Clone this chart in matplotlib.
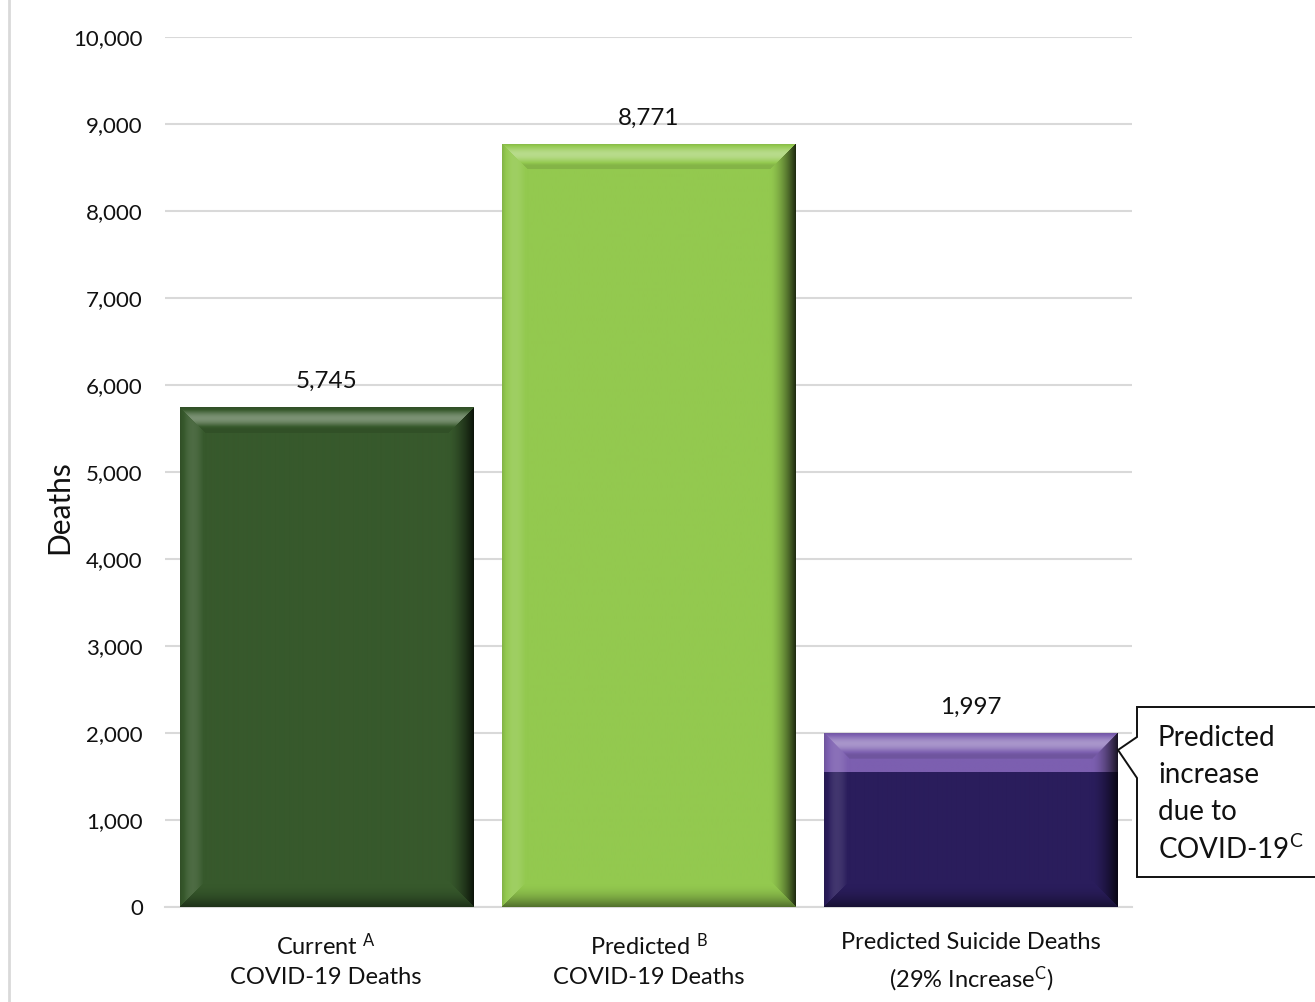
import numpy as np
import matplotlib
matplotlib.use("Agg")
import matplotlib.pyplot as plt
from matplotlib.patches import Polygon
from matplotlib.lines import Line2D
from matplotlib.ticker import FuncFormatter

plt.rcParams["font.family"] = ["Lato", "DejaVu Sans"]
plt.rcParams["mathtext.fontset"] = "custom"
plt.rcParams["mathtext.rm"] = "Lato"
plt.rcParams["mathtext.it"] = "Lato:italic"
plt.rcParams["mathtext.bf"] = "Lato:bold"

# ---- data -------------------------------------------------------------
categories = [
    "Current$\\ ^{\\mathrm{A}}$\nCOVID-19 Deaths",
    "Predicted$\\ ^{\\mathrm{B}}$\nCOVID-19 Deaths",
    "Predicted Suicide Deaths\n(29% Increase$^{\\mathrm{C}}$)",
]
totals = [5745, 8771, 1997]
suicide_baseline = 1548          # expected suicide deaths without the pandemic
suicide_increase = totals[2] - suicide_baseline
bar_colors = ["#37592c", "#93c94f", "#2a1d5c"]
increase_color = "#7c5fb0"
y_ticks = [0, 1000, 2000, 3000, 4000, 5000, 6000, 7000, 8000, 9000, 10000]
callout_lines = ["Predicted", "increase", "due to", "COVID-19$^{\\mathrm{C}}$"]

W, H = 1315, 1002
fig = plt.figure(figsize=(W / 100, H / 100), dpi=100)
ax = fig.add_axes([165 / W, 1 - 907 / H, (1132 - 165) / W, (907 - 37) / H])

ax.set_xlim(-0.5, 2.5)
ax.set_ylim(0, 10000)
for s in ["top", "right", "left"]:
    ax.spines[s].set_visible(False)
ax.spines["bottom"].set_color("#d9d9d9")
ax.spines["bottom"].set_linewidth(1.5)
ax.set_yticks(y_ticks)
ax.yaxis.set_major_formatter(FuncFormatter(lambda v, p: f"{int(v):,}"))
ax.tick_params(axis="y", length=0, pad=16, labelsize=16, labelcolor="#111111")
ax.tick_params(axis="x", length=0, pad=18, labelsize=17, labelcolor="#111111")
ax.grid(axis="y", color="#d9d9d9", linewidth=1.5, zorder=0)
ax.set_axisbelow(True)
ax.set_ylabel("Deaths", fontsize=21.5, color="#111111")
ax.yaxis.set_label_coords((73 - 165) / (1132 - 165), (907 - 507) / (907 - 37))
ax.set_xticks(range(3))
ax.set_xticklabels(categories, linespacing=1.5)

bar_width = 0.91


def shade(base, s):
    base = np.asarray(base)
    s = s[..., None]
    return np.where(s > 0, base + s * (1 - base), base * (1 + s))


def bevel_image(w, h, base, b=26, top=True, bottom=True):
    """RGB image of a bevelled rectangle, w x h pixels."""
    yy, xx = np.mgrid[0:h, 0:w] + 0.5
    big = 1e9
    dt = yy if top else np.full_like(yy, big)
    db = (h - yy) if bottom else np.full_like(yy, big)
    dl = xx
    dr = w - xx
    d = np.stack([dt, db, dl, dr])
    side = d.argmin(0)
    t = np.clip(d.min(0) / b, 0, 1)
    # top: darker rim, bright highlight, back to base
    st = -0.10 + 0.44 * np.sin(np.pi * np.clip(t * 1.15, 0, 1)) ** 1.5
    # bottom: dark rim fading to base with a faint light strip
    sb = -0.45 * (1 - t) ** 1.3 + 0.08 * np.sin(np.pi * t)
    # left: dark rim, soft light strip
    sl = -0.12 * (1 - t) ** 4 + 0.12 * np.sin(np.pi * np.clip(t * 1.1, 0, 1))
    # right: strong darkening towards edge
    sr = -0.80 * (1 - t) ** 1.6
    s = np.select([side == 0, side == 1, side == 2, side == 3], [st, sb, sl, sr])
    s = np.where(t >= 1, 0, s)
    return shade(base, s)


def to_rgb(c):
    return np.array(matplotlib.colors.to_rgb(c))


def draw_bevel(patch, color, top=True, bottom=True):
    x0, y0 = patch.get_x(), patch.get_y()
    x1, y1 = x0 + patch.get_width(), y0 + patch.get_height()
    p0 = ax.transData.transform((x0, y0))
    p1 = ax.transData.transform((x1, y1))
    w = max(int(round(abs(p1[0] - p0[0]))), 2)
    h = max(int(round(abs(p1[1] - p0[1]))), 2)
    img = bevel_image(w, h, to_rgb(color), top=top, bottom=bottom)
    im = ax.imshow(img, extent=(x0, x1, y0, y1), origin="upper",
                   aspect="auto", zorder=3, interpolation="bilinear")
    im.set_clip_path(patch)


x = np.arange(3)
bottom_vals = [totals[0], totals[1], suicide_baseline]
bars = ax.bar(x, bottom_vals, width=bar_width, color=bar_colors, zorder=2)
inc = ax.bar([2], [suicide_increase], bottom=[suicide_baseline], width=bar_width,
             color=increase_color, zorder=2)

draw_bevel(bars[0], bar_colors[0])
draw_bevel(bars[1], bar_colors[1])
draw_bevel(bars[2], bar_colors[2], top=False)
draw_bevel(inc[0], increase_color, bottom=False)

ax.set_xlim(-0.5, 2.5)
ax.set_ylim(0, 10000)

for xi, v in zip(x, totals):
    ax.annotate(f"{v:,}", (xi, v), xytext=(0, 11), textcoords="offset points",
                ha="center", va="bottom", fontsize=17.5, color="#111111", zorder=5)

# callout box pointing at the increase segment
pts = [(1137, 707), (1320, 707), (1320, 877), (1137, 877), (1137, 778),
       (1118, 750), (1137, 737)]
poly = Polygon([(px / W, 1 - py / H) for px, py in pts], closed=True,
               transform=fig.transFigure, facecolor="white", edgecolor="#111111",
               linewidth=1.4, zorder=10)
fig.patches.append(poly)
for i, line in enumerate(callout_lines):
    fig.text(1158 / W, 1 - (738 + 37 * i) / H, line, ha="left", va="center",
             fontsize=20, color="#111111", zorder=11)

# thin frame line on the left edge
fig.lines.append(Line2D([8.5 / W, 8.5 / W], [0, 1], transform=fig.transFigure,
                        color="#d9d9d9", linewidth=2))

fig.savefig("out.png", dpi=100)
